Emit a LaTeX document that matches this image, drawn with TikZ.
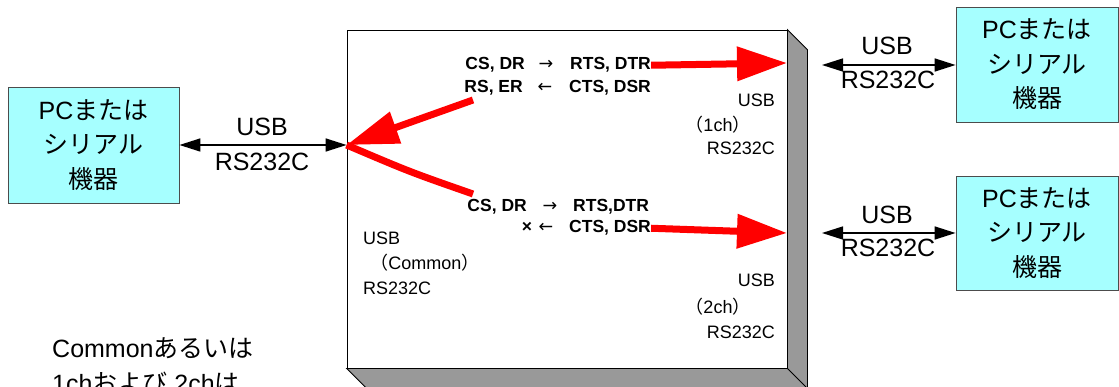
\documentclass[tikz,border=0pt]{standalone}
\usepackage{fontspec}
\setmainfont{Liberation Sans}
\newfontfamily\jp{Noto Sans CJK JP}
\newfontfamily\dv{DejaVu Sans}
\usetikzlibrary{arrows.meta,calc}
\definecolor{devcyan}{RGB}{166,255,255}
\definecolor{sidegray}{RGB}{153,153,153}
\begin{document}
\begin{tikzpicture}[x=1pt,y=-1pt,
  dev/.style={draw=black!70, line width=0.8pt, fill=devcyan, inner sep=0pt, align=center,
    font=\fontsize{25}{34.5}\selectfont},
  biglbl/.style={font=\fontsize{25}{30}\selectfont, inner sep=0pt},
  smalllbl/.style={font=\fontsize{18}{24}\selectfont, inner sep=0pt},
  sig/.style={font=\bfseries\fontsize{17.5}{22}\selectfont, inner sep=0pt},
  sigarrow/.style={font=\dv\fontsize{17.5}{22}\selectfont, inner sep=0pt},
  link/.style={{Triangle[length=21pt,width=13pt]}-{Triangle[length=21pt,width=13pt]}, line width=1.5pt},
  redarrow/.style={red, line width=7pt, -{Triangle[length=50pt,width=33pt]}}
]
\useasboundingbox (0,0) rectangle (1119,387);
\clip (0,0) rectangle (1119,387);

% main box
\node[draw=black, line width=0.8pt, fill=white, minimum width=440pt, minimum height=338pt, inner sep=0pt] (M) at (567,199) {};
\filldraw[fill=sidegray, draw=black, line width=0.8pt]
  (M.north east) -- ($(M.north east)+(20,20)$) -- ($(M.south east)+(20,20)$)
  -- ($(M.south west)+(20,20)$) -- (M.south west) -- (M.south east) -- cycle;
\draw[line width=0.8pt] (M.south east) -- ($(M.south east)+(20,20)$);

% devices
\node[dev, minimum width=171pt, minimum height=116pt] (L) at (93.5,145) {PC{\jp または}\\{\jp シリアル}\\{\jp 機器}};
\node[dev, minimum width=162pt, minimum height=115pt] (R1) at (1037,64.5) {PC{\jp または}\\{\jp シリアル}\\{\jp 機器}};
\node[dev, minimum width=162pt, minimum height=114pt] (R2) at (1037,233) {PC{\jp または}\\{\jp シリアル}\\{\jp 機器}};

% links
\coordinate (hub) at (L.east -| M.west);
\coordinate (a1) at (822,65);
\coordinate (a2) at (822,233);
\draw[link] (L.east) -- (hub);
\draw[link] (a1) -- (a1 -| R1.west);
\draw[link] (a2) -- (a2 -| R2.west);

\node[biglbl, anchor=base] (lu) at (262,136) {USB};
\node[biglbl, anchor=base] (lr) at (262,171) {RS232C};
\node[biglbl, anchor=base] (r1u) at (887,55) {USB};
\node[biglbl, anchor=base] (r1r) at (888,89) {RS232C};
\node[biglbl, anchor=base] (r2u) at (887,224) {USB};
\node[biglbl, anchor=base] (r2r) at (888,257) {RS232C};

% port labels
\node[smalllbl, anchor=base east] (c1u) at (775,107) {USB};
\node[smalllbl, anchor=base] (c1c) at (718,132) {{\jp （}1ch{\jp ）}};
\node[smalllbl, anchor=base east] (c1r) at (775,155) {RS232C};
\node[smalllbl, anchor=base west] (cmu) at (363,245) {USB};
\node[smalllbl, anchor=base] (cmc) at (425,270) {{\jp （}Common{\jp ）}};
\node[smalllbl, anchor=base west] (cmr) at (363,295) {RS232C};
\node[smalllbl, anchor=base east] (c2u) at (775,287) {USB};
\node[smalllbl, anchor=base] (c2c) at (718,313) {{\jp （}2ch{\jp ）}};
\node[smalllbl, anchor=base east] (c2r) at (775,338) {RS232C};

% signal texts
\node[sig, anchor=base east] (s1a) at (525,70) {CS, DR};
\node[sigarrow, anchor=base] (s1m) at (546,70) {→};
\node[sig, anchor=base west] (s1b) at (570,70) {RTS, DTR};
\node[sig, anchor=base east] (s2a) at (523,93) {RS, ER};
\node[sigarrow, anchor=base] (s2m) at (545,93) {←};
\node[sig, anchor=base west] (s2b) at (569,93) {CTS, DSR};
\node[sig, anchor=base east] (s3a) at (527,212) {CS, DR};
\node[sigarrow, anchor=base] (s3m) at (550,212) {→};
\node[sig, anchor=base west] (s3b) at (573,212) {RTS,DTR};
\node[sig, anchor=base] (s4a) at (527,233) {×};
\node[sigarrow, anchor=base] (s4m) at (546,233) {←};
\node[sig, anchor=base west] (s4b) at (569,233) {CTS, DSR};

% red arrows
\coordinate (t1) at (787,63);
\coordinate (t2) at (787,233);
\coordinate (tail3) at (473,100);
\coordinate (tail4) at (473,194);
\draw[redarrow] (s1b.east) -- (t1);
\draw[redarrow] (s4b.east) -- (t2);
\draw[red, line width=7pt, -{Triangle[length=52pt,width=32pt]}] (tail3) -- (hub);
\draw[red, line width=7pt] (hub) .. controls (410,172) .. (tail4);

% note
\node[font=\fontsize{25}{35}\selectfont, inner sep=0pt, anchor=base west, align=left] (note) at (52,392)
  {Common{\jp あるいは}\\1ch{\jp および} 2ch{\jp は}};
\end{tikzpicture}
\end{document}
